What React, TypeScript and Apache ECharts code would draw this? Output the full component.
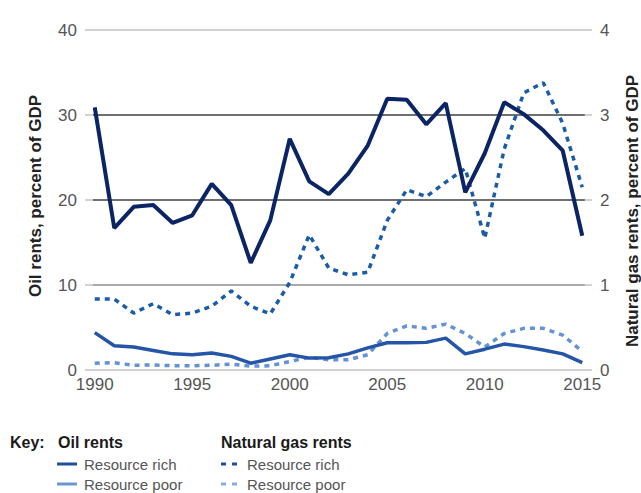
import React, { useEffect, useRef } from "react";
import * as echarts from "echarts";

const years = [1990,1991,1992,1993,1994,1995,1996,1997,1998,1999,2000,2001,2002,2003,2004,2005,2006,2007,2008,2009,2010,2011,2012,2013,2014,2015];
const oilRich = [30.9,16.7,19.2,19.4,17.3,18.2,21.9,19.4,12.6,17.6,27.2,22.2,20.7,23.1,26.4,31.9,31.8,28.9,31.4,20.9,25.5,31.5,30.1,28.2,25.8,15.8];
const oilPoor = [4.4,2.85,2.7,2.3,1.9,1.8,2.0,1.6,0.8,1.3,1.8,1.4,1.45,1.9,2.6,3.2,3.2,3.25,3.75,1.9,2.45,3.05,2.75,2.35,1.9,0.86];
const gasRich = [0.835,0.835,0.67,0.78,0.65,0.67,0.75,0.93,0.75,0.66,1.03,1.59,1.2,1.12,1.15,1.76,2.12,2.04,2.21,2.37,1.55,2.6,3.26,3.38,2.9,2.15];
const gasPoor = [0.08,0.085,0.055,0.06,0.05,0.05,0.055,0.07,0.045,0.05,0.1,0.15,0.12,0.12,0.18,0.43,0.52,0.49,0.54,0.43,0.27,0.43,0.49,0.49,0.41,0.22];
const xTicks = [1990,1995,2000,2005,2010,2015];
const leftTicks = [0,10,20,30,40];
const rightTicks = [0,1,2,3,4];

const FONT = "'Liberation Sans', Arial, sans-serif";
const C_OIL_RICH = "#0b2463";
const C_OIL_POOR = "#2555a6";
const C_GAS_RICH = "#1b5ca8";
const C_GAS_POOR = "#6592d2";

function pairs(vals: number[]) {
  return years.map((y, i) => [y, vals[i]]);
}

export default function App() {
  const ref = useRef<HTMLDivElement>(null);
  useEffect(() => {
    const chart = echarts.init(ref.current!, null, { renderer: "svg" });
    const gridLine = (v: number, color: string) => [
      { coord: [1989.91, v], lineStyle: { color, width: 2, type: "solid" } },
      { coord: [2015.13, v] },
    ];
    chart.setOption({
      animation: false,
      grid: { left: 85, right: 49, top: 30, bottom: 123 },
      xAxis: {
        type: "value",
        min: 1989.5,
        max: 2015.5,
        axisLine: { show: false },
        axisTick: { show: false },
        splitLine: { show: false },
        axisLabel: {
          customValues: xTicks,
          color: "#555",
          fontFamily: FONT,
          fontSize: 17,
          margin: 6,
          formatter: (v: number) => String(v),
        },
      },
      yAxis: [
        {
          type: "value",
          min: leftTicks[0],
          max: leftTicks[leftTicks.length - 1],
          interval: 10,
          axisLine: { show: false },
          axisTick: { show: false },
          axisLabel: { color: "#555", fontFamily: FONT, fontSize: 17, margin: 8 },
          splitLine: { show: true, lineStyle: { color: "#d2d2d2", width: 2 } },
        },
        {
          type: "value",
          min: rightTicks[0],
          max: rightTicks[rightTicks.length - 1],
          interval: 1,
          axisLine: { show: false },
          axisTick: { show: false },
          axisLabel: { color: "#555", fontFamily: FONT, fontSize: 17, margin: 8 },
          splitLine: { show: false },
        },
      ],
      series: [
        {
          type: "line",
          yAxisIndex: 0,
          data: [],
          silent: true,
          markLine: {
            symbol: "none",
            silent: true,
            label: { show: false },
            data: [gridLine(10, "#a9a9ab"), gridLine(20, "#6f6f72"), gridLine(30, "#6f6f72")],
          },
        },
        {
          name: "Gas poor",
          type: "line",
          yAxisIndex: 1,
          data: pairs(gasPoor),
          showSymbol: false,
          symbol: "none",
          lineStyle: { color: C_GAS_POOR, width: 3.5, type: [5, 5], cap: "butt" },
          z: 3,
        },
        {
          name: "Oil poor",
          type: "line",
          yAxisIndex: 0,
          data: pairs(oilPoor),
          symbol: "none",
          lineStyle: { color: C_OIL_POOR, width: 3.5 },
          z: 4,
        },
        {
          name: "Gas rich",
          type: "line",
          yAxisIndex: 1,
          data: pairs(gasRich),
          symbol: "none",
          lineStyle: { color: C_GAS_RICH, width: 3.5, type: [5, 5], cap: "butt" },
          z: 5,
        },
        {
          name: "Oil rich",
          type: "line",
          yAxisIndex: 0,
          data: pairs(oilRich),
          symbol: "none",
          lineStyle: { color: C_OIL_RICH, width: 4 },
          z: 6,
        },
      ],
      graphic: [
        {
          type: "text",
          x: 35,
          y: 196,
          rotation: Math.PI / 2,
          style: {
            text: "Oil rents, percent of GDP",
            fontFamily: FONT,
            fontSize: 17,
            fontWeight: "bold",
            fill: "#222",
            align: "center",
            verticalAlign: "middle",
          },
        },
        {
          type: "text",
          x: 632,
          y: 211,
          rotation: Math.PI / 2,
          style: {
            text: "Natural gas rents, percent of GDP",
            fontFamily: FONT,
            fontSize: 17,
            fontWeight: "bold",
            fill: "#222",
            align: "center",
            verticalAlign: "middle",
          },
        },
        { type: "text", x: 10, y: 442, style: { text: "Key:", fontFamily: FONT, fontSize: 16, fontWeight: "bold", fill: "#1a1a1a", verticalAlign: "middle" } },
        { type: "text", x: 58, y: 442, style: { text: "Oil rents", fontFamily: FONT, fontSize: 16, fontWeight: "bold", fill: "#1a1a1a", verticalAlign: "middle" } },
        { type: "text", x: 221, y: 442, style: { text: "Natural gas rents", fontFamily: FONT, fontSize: 16, fontWeight: "bold", fill: "#1a1a1a", verticalAlign: "middle" } },
        { type: "line", shape: { x1: 57, y1: 464, x2: 77, y2: 464 }, style: { stroke: "#1f4f9c", lineWidth: 3 } },
        { type: "line", shape: { x1: 57, y1: 484, x2: 77, y2: 484 }, style: { stroke: "#6d97d0", lineWidth: 3 } },
        { type: "line", shape: { x1: 221, y1: 464, x2: 237, y2: 464 }, style: { stroke: "#1f4f9c", lineWidth: 3, lineDash: [5, 6] } },
        { type: "line", shape: { x1: 221, y1: 484, x2: 237, y2: 484 }, style: { stroke: "#8cabd9", lineWidth: 3, lineDash: [5, 6] } },
        { type: "text", x: 84, y: 464, style: { text: "Resource rich", fontFamily: FONT, fontSize: 15, fill: "#555", verticalAlign: "middle" } },
        { type: "text", x: 84, y: 484, style: { text: "Resource poor", fontFamily: FONT, fontSize: 15, fill: "#555", verticalAlign: "middle" } },
        { type: "text", x: 247, y: 464, style: { text: "Resource rich", fontFamily: FONT, fontSize: 15, fill: "#555", verticalAlign: "middle" } },
        { type: "text", x: 247, y: 484, style: { text: "Resource poor", fontFamily: FONT, fontSize: 15, fill: "#555", verticalAlign: "middle" } },
      ],
    });
    return () => chart.dispose();
  }, []);
  return <div ref={ref} style={{ width: 641, height: 493, position: "absolute", left: 0, top: 0, background: "#fff" }} />;
}
